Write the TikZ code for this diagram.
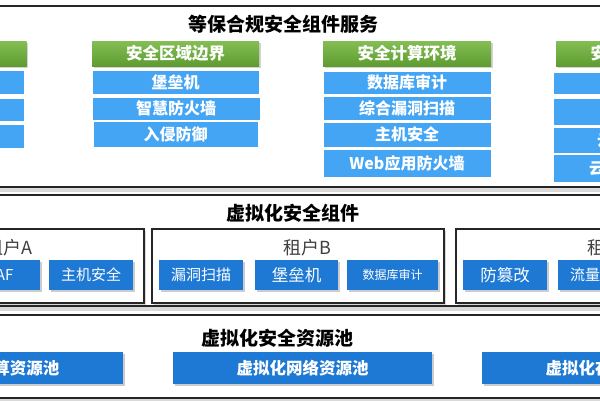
\documentclass[tikz,border=0pt]{standalone}
\usepackage{fontspec}
\setmainfont{Noto Sans CJK SC}
\usepackage{tikz}
\usetikzlibrary{shadows,positioning}

\definecolor{hdgreenA}{RGB}{132,190,84}
\definecolor{hdgreenB}{RGB}{94,156,48}
\definecolor{itemblue}{RGB}{68,165,244}
\definecolor{tenblue}{RGB}{30,121,212}
\definecolor{frameline}{RGB}{38,38,38}
\definecolor{lblgray}{RGB}{64,64,64}

\begin{document}
\begin{tikzpicture}[x=1pt,y=1pt,yscale=-1,
  panel/.style={draw=frameline,line width=1.7pt,fill=white,
    drop shadow={shadow xshift=0pt,shadow yshift=-5pt,opacity=0.3}},
  paneltitle/.style={inner sep=0pt,font=\fontsize{19}{19}\selectfont\bfseries},
  hdr/.style={minimum height=25pt,inner sep=0pt,top color=hdgreenA,bottom color=hdgreenB,
    text=white,font=\fontsize{16.5}{16.5}\selectfont\bfseries,
    drop shadow={shadow xshift=1.5pt,shadow yshift=-1.5pt,opacity=0.35}},
  item/.style={draw=white,line width=0.8pt,fill=itemblue,inner sep=0pt,text=white,
    minimum width=168pt,font=\fontsize{16}{16}\selectfont\bfseries},
  tenant/.style={draw=frameline,line width=1.4pt,fill=white,inner sep=0pt,
    minimum height=74pt,drop shadow={shadow xshift=1.5pt,shadow yshift=-1.5pt,opacity=0.3}},
  tenlbl/.style={inner sep=0pt,text=lblgray,font=\fontsize{18}{18}\selectfont},
  tenitem/.style={fill=tenblue,inner sep=0pt,text=white,minimum height=30pt,
    font=\fontsize{15}{15}\selectfont,
    drop shadow={shadow xshift=1.5pt,shadow yshift=-1.5pt,opacity=0.4}},
  pool/.style={fill=tenblue,inner sep=0pt,text=white,minimum width=259pt,minimum height=32pt,
    font=\fontsize{16.5}{16.5}\selectfont\bfseries,
    drop shadow={shadow xshift=1.5pt,shadow yshift=-1.5pt,opacity=0.4}}]
\useasboundingbox (0,0) rectangle (600,400);

%Shape: Rectangle [compliance panel]
\draw [panel] (-20,6) rectangle (620,187);
% Text Node
\node [paneltitle] (cmpTitle) at (283,24) {等保合规安全组件服务};

% Green headers
\node [hdr,minimum width=167pt] (hdNet) at (-57,53.5) {};
\node [hdr,minimum width=167pt] (hdBorder) at (175.5,53.5) {安全区域边界};
\node [hdr,minimum width=168pt] (hdCompute) at (407,53.5) {安全计算环境};
\node [hdr,minimum width=168pt] (hdMgmt) at (640,53.5) {安全管理中心};

% column 1
\node [item,minimum height=24pt] (netA) at (-60,82) {};
\node [item,minimum height=23pt] (netB) at (-60,109.5) {};
\node [item,minimum height=24pt] (netC) at (-60,136) {};
% column 2
\node [item,minimum width=167pt,minimum height=24pt] (bdBastion) at (175.5,82) {堡垒机};
\node [item,minimum width=168pt,minimum height=23pt] (bdFirewall) at (176,108.5) {智慧防火墙};
\node [item,minimum width=165pt,minimum height=26pt] (bdIps) at (175.5,134) {入侵防御};
% column 3
\node [item,minimum height=23pt] (cpDbAudit) at (407,82.5) {数据库审计};
\node [item,minimum height=24pt] (cpVulScan) at (407,108) {综合漏洞扫描};
\node [item,minimum height=25pt] (cpHost) at (407,134.5) {主机安全};
\node [item,minimum height=28pt] (cpWaf) at (407,163) {Web应用防火墙};
% column 4
\node [item,minimum height=22pt] (mgA) at (637,83) {};
\node [item,minimum height=27pt] (mgB) at (637,111.5) {};
\node [item,minimum height=26pt] (mgC) at (637,140) {云日志审计};
\node [item,minimum height=28pt] (mgD) at (637,168) {云端安全管理};

%Shape: Rectangle [virtual component panel]
\draw [panel] (-20,195) rectangle (620,306);
% Text Node
\node [paneltitle] (vcTitle) at (293,213) {虚拟化安全组件};

% Tenants
\node [tenant,minimum width=294pt] (tenA) at (-3,266) {};
\node [tenant,minimum width=292pt] (tenB) at (298,266) {};
\node [tenant,minimum width=292pt] (tenC) at (602,266) {};
\node [tenlbl] (lblA) at (8.5,247.5) {租户A};
\node [tenlbl] (lblB) at (307,247.5) {租户B};
\node [tenlbl] (lblC) at (611,247.5) {租户C};

\node [tenitem,minimum width=84pt] (aWaf) at (-2,275) {WAF};
\node [tenitem,minimum width=84pt] (aHost) at (91,275) {主机安全};
\node [tenitem,minimum width=84pt] (bVul) at (201,275) {漏洞扫描};
\node [tenitem,minimum width=83pt,font=\fontsize{16.5}{16.5}\selectfont] (bBastion) at (296.5,275) {堡垒机};
\node [tenitem,minimum width=91pt,font=\fontsize{12}{12}\selectfont] (bDb) at (392.5,275) {数据库审计};
\node [tenitem,minimum width=84pt,font=\fontsize{16.5}{16.5}\selectfont] (cTamper) at (505,275) {防篡改};
\node [tenitem,minimum width=84pt] (cFlow) at (600,275) {流量审计};

%Shape: Rectangle [resource pool panel]
\draw [panel] (-20,315) rectangle (620,398);
% Text Node
\node [paneltitle] (rpTitle) at (277,338) {虚拟化安全资源池};

\node [pool] (poolCompute) at (-6.5,368) {虚拟化计算资源池};
\node [pool] (poolNet) at (302.5,368) {虚拟化网络资源池};
\node [pool] (poolStore) at (611.5,368) {虚拟化存储资源池};

\end{tikzpicture}
\end{document}
